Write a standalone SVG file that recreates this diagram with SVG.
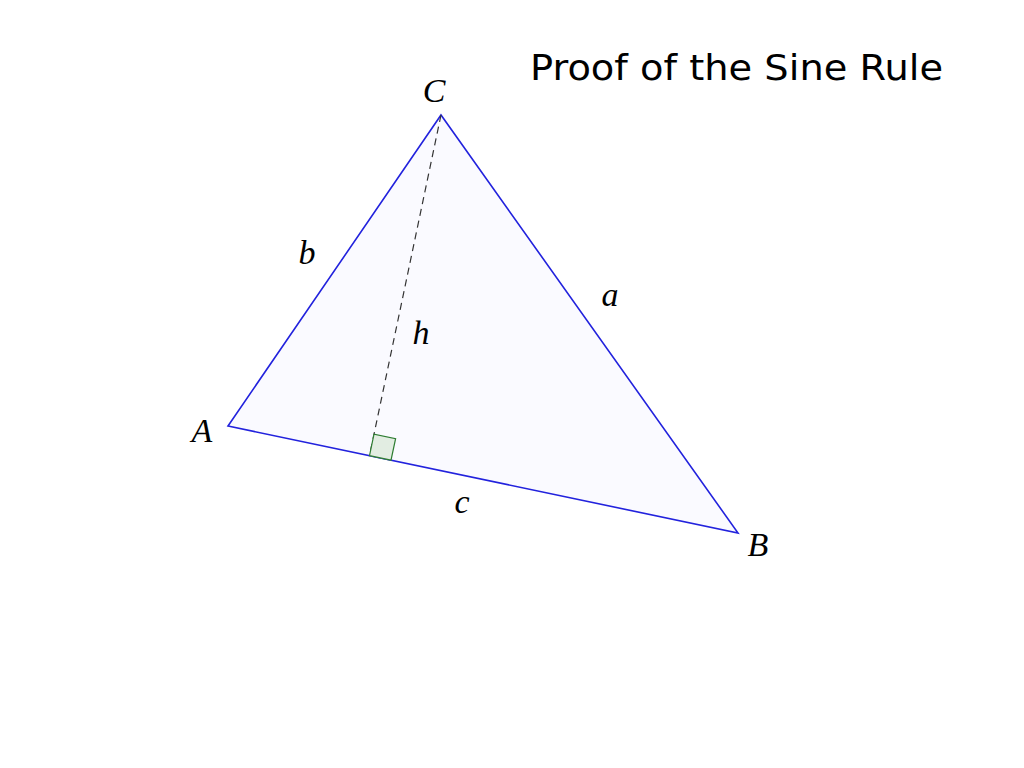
<svg xmlns="http://www.w3.org/2000/svg" width="1024" height="768" viewBox="0 0 1024 768">
<style>
.lbl{font-family:"Liberation Serif","DejaVu Serif",serif;font-style:italic;font-size:34px;fill:#000;text-anchor:middle}
.title{font-family:"DejaVu Sans","Liberation Sans",sans-serif;font-size:35px;fill:#000}
</style>
<rect width="1024" height="768" fill="#fff"/>
<text class="title" x="530" y="80" textLength="413" lengthAdjust="spacingAndGlyphs">Proof of the Sine Rule</text>
<g id="triangle">
<polygon points="228,426 738,533 441,115" fill="#fafaff" stroke="#2222dd" stroke-width="1.6" stroke-linejoin="miter"/>
</g>
<g id="connectors">
<line x1="441" y1="115" x2="369.5" y2="455.7" stroke="#333" stroke-width="1.2" stroke-dasharray="7,5"/>
</g>
<g id="right-angle">
<polygon points="369.5,455.7 391,460.2 395.6,438.7 374,434.2" fill="#e2ede2" stroke="#2e7d32" stroke-width="1.2"/>
</g>
<g id="labels">
<text class="lbl" x="434" y="102">C</text>
<text class="lbl" x="202" y="442">A</text>
<text class="lbl" x="758" y="556">B</text>
<text class="lbl" x="307" y="264">b</text>
<text class="lbl" x="610" y="306">a</text>
<text class="lbl" x="421" y="344">h</text>
<text class="lbl" x="462" y="513">c</text>
</g>
</svg>
